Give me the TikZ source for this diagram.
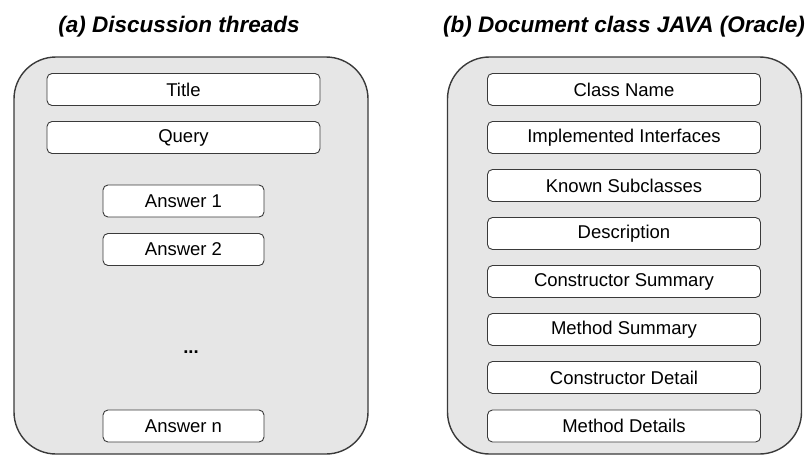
\documentclass[tikz,border=0pt]{standalone}
\usepackage{fontspec}
\setmainfont{Liberation Sans}
\definecolor{panelgray}{HTML}{E6E6E6}
\definecolor{edgegray}{HTML}{3A3A3A}
\begin{document}
\begin{tikzpicture}[x=1pt,y=-1pt,
	panel/.style={draw=edgegray,line width=1.4pt,fill=panelgray,rounded corners=42pt,minimum width=354pt,minimum height=397pt},
	part/.style={draw=edgegray,line width=0.9pt,fill=white,rounded corners=5pt,minimum height=32pt,inner sep=0pt,font=\fontsize{18.5}{22}\selectfont},
	wide/.style={part,minimum width=273pt},
	narrow/.style={part,minimum width=161pt},
	heading/.style={font=\fontsize{22.5}{26}\selectfont\bfseries\itshape}]
	\useasboundingbox (0,0) rectangle (810,455);

		\node[heading] (ha) at (179,27) {(a) Discussion threads};
		\node[heading] (hb) at (624,27) {(b) Document class JAVA (Oracle)};

		\node[panel] (pa) at (191,255.5) {};
		\node[panel] (pb) at (624.5,255.5) {};

		\node[wide] (title) at (183.5,89.5) {Title};
		\node[wide] (query) at (183.5,137.5) {Query};
		\node[narrow] (ans1) at (183.5,201) {Answer 1};
		\node[narrow] (ans2) at (183.5,249.5) {Answer 2};
		\node[font=\fontsize{18.5}{22}\selectfont\bfseries] (dots) at (191,352) {...};
		\node[narrow] (ansn) at (183.5,426) {Answer n};

		\node[wide] (cname) at (624,89.5) {Class Name};
		\node[wide] (iface) at (624,137.5) {Implemented Interfaces};
		\node[wide] (subcl) at (624,185.5) {Known Subclasses};
		\node[wide] (descr) at (624,233.5) {Description};
		\node[wide] (csum) at (624,281.5) {Constructor Summary};
		\node[wide] (msum) at (624,329.5) {Method Summary};
		\node[wide] (cdet) at (624,377.5) {Constructor Detail};
		\node[wide] (mdet) at (624,426) {Method Details};
	\end{tikzpicture}
\end{document}
